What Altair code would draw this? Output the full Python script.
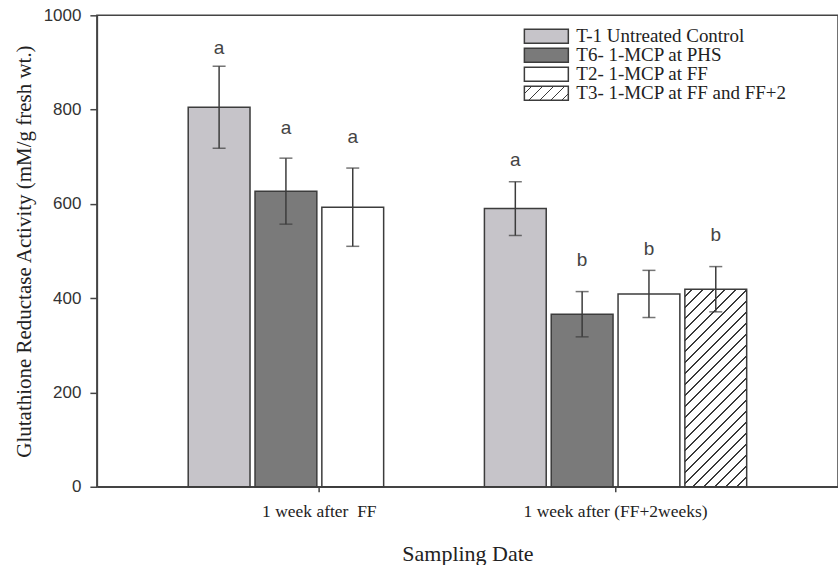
import altair as alt
import pandas as pd

# ---- data -------------------------------------------------------------
groups = ["1 week after \u00a0FF", "1 week after (FF+2weeks)"]
treatments = [
    "T-1 Untreated Control",
    "T6- 1-MCP at PHS",
    "T2- 1-MCP at FF",
    "T3- 1-MCP at FF and FF+2",
]
bar_group = [groups[0]] * 3 + [groups[1]] * 4
bar_treatment = [treatments[0], treatments[1], treatments[2],
                 treatments[0], treatments[1], treatments[2], treatments[3]]
activity = [805, 627, 593, 590, 366, 409, 419]
error = [87, 70, 83, 57, 48, 50, 48]
letters = ["a", "a", "a", "a", "b", "b", "b"]
letter_height = [930, 760, 741, 693, 481, 504, 534]

df = pd.DataFrame({
    "group": bar_group,
    "treatment": bar_treatment,
    "activity": activity,
    "lo": [m - e for m, e in zip(activity, error)],
    "hi": [m + e for m, e in zip(activity, error)],
    "letter": letters,
    "letter_y": letter_height,
})
key_df = pd.DataFrame({"treatment": treatments})

# ---- geometry ---------------------------------------------------------
PLOT_W, PLOT_H, Y_MAX = 742, 472, 1000
X_PAD_OUTER = 0.251
OFF_PAD_INNER, OFF_PAD_OUTER = 0.075, 0.254

band = PLOT_W / (2 + 2 * X_PAD_OUTER)
off_step = band / (len(treatments) - OFF_PAD_INNER + 2 * OFF_PAD_OUTER)
bar_w = off_step * (1 - OFF_PAD_INNER)
hatch_h = activity[bar_treatment.index(treatments[3])] * PLOT_H / Y_MAX

# legend block inside the plot (pixels from the plot's top-left corner)
KEY_LEFT, KEY_W, KEY_H, KEY_ROW, KEY_TOP = 428, 44, 14, 19, 11.5
KEY_TEXT_X = 480

INK = "#3c3c3c"
SOLID_FILLS = ["#c6c4c9", "#7a7a7a", "#ffffff"]


def stripe_gradient(w, h, period, line, dark="#3a3a3a", light="#ffffff"):
    """Diagonal '/' hatching as a linear gradient in bounding-box units."""
    total = w + h
    c = total / (w * w + h * h)
    stops = ["{offset:0,color:'%s'}" % light]
    pos = period * 0.6
    while pos + line < total:
        a, b = pos / total, (pos + line) / total
        stops += ["{offset:%.5f,color:'%s'}" % (a, light),
                  "{offset:%.5f,color:'%s'}" % (a, dark),
                  "{offset:%.5f,color:'%s'}" % (b, dark),
                  "{offset:%.5f,color:'%s'}" % (b, light)]
        pos += period
    stops.append("{offset:1,color:'%s'}" % light)
    return ("{gradient:'linear',x1:0,y1:0,x2:%.5f,y2:%.5f,stops:[%s]}"
            % (c * w, c * h, ",".join(stops)))


bar_scale = alt.Scale(
    domain=treatments,
    range=SOLID_FILLS + [alt.ExprRef(expr=stripe_gradient(bar_w, hatch_h, 11.0, 1.8))],
)
key_scale = alt.Scale(
    domain=treatments,
    range=SOLID_FILLS + [alt.ExprRef(expr=stripe_gradient(KEY_W, KEY_H, 11.0, 1.8))],
)

x_enc = alt.X(
    "group:N", sort=groups,
    scale=alt.Scale(paddingInner=0, paddingOuter=X_PAD_OUTER),
    axis=alt.Axis(title="Sampling Date", labelAngle=0, tickSize=5,
                  labelPadding=11, titlePadding=23, labelLimit=0,
                  labelFont="Liberation Serif", labelFontSize=17.5,
                  labelColor="#222", titleFont="Liberation Serif",
                  titleFontSize=22, titleFontWeight="normal",
                  titleColor="#222"),
)
off_enc = alt.XOffset(
    "treatment:N",
    scale=alt.Scale(domain=treatments, paddingInner=OFF_PAD_INNER,
                    paddingOuter=OFF_PAD_OUTER),
)
y_scale = alt.Scale(domain=[0, Y_MAX], nice=False)
y_enc = alt.Y(
    "activity:Q", scale=y_scale,
    axis=alt.Axis(title="Glutathione Reductase Activity (mM/g fresh wt.)",
                  values=[0, 200, 400, 600, 800, 1000], format="d",
                  grid=False, tickSize=7, labelPadding=9, titlePadding=9,
                  labelFont="Liberation Sans", labelFontSize=17,
                  labelColor="#333", titleFont="Liberation Serif",
                  titleFontSize=21, titleFontWeight="normal",
                  titleColor="#222"),
)

bars = alt.Chart(df).mark_bar(stroke=INK, strokeWidth=1.5).encode(
    x=x_enc, xOffset=off_enc, y=y_enc,
    fill=alt.Fill("treatment:N", scale=bar_scale, legend=None),
)
whiskers = alt.Chart(df).mark_rule(color=INK, strokeWidth=1.5).encode(
    x=alt.X("group:N", sort=groups), xOffset=off_enc,
    y=alt.Y("lo:Q", scale=y_scale), y2="hi:Q",
)
cap_lo = alt.Chart(df).mark_tick(color=INK, thickness=1.5, size=13,
                                 orient="horizontal").encode(
    x=alt.X("group:N", sort=groups), xOffset=off_enc,
    y=alt.Y("lo:Q", scale=y_scale),
)
cap_hi = alt.Chart(df).mark_tick(color=INK, thickness=1.5, size=13,
                                 orient="horizontal").encode(
    x=alt.X("group:N", sort=groups), xOffset=off_enc,
    y=alt.Y("hi:Q", scale=y_scale),
)
letters_layer = alt.Chart(df).mark_text(
    font="Liberation Sans", fontSize=19, color="#444", baseline="middle",
).encode(
    x=alt.X("group:N", sort=groups), xOffset=off_enc,
    y=alt.Y("letter_y:Q", scale=y_scale), text="letter:N",
)
data_layers = alt.layer(bars, whiskers, cap_lo, cap_hi, letters_layer)

# ---- key (legend) -----------------------------------------------------
key_y = alt.Y(
    "treatment:N", sort=treatments, axis=None,
    scale=alt.Scale(domain=treatments,
                    range=[KEY_TOP, KEY_TOP + KEY_ROW * len(treatments)],
                    paddingInner=1 - KEY_H / KEY_ROW,
                    paddingOuter=(1 - KEY_H / KEY_ROW) / 2),
)
key_swatch = alt.Chart(key_df).mark_bar(stroke=INK, strokeWidth=1.5).encode(
    x=alt.value(KEY_LEFT), x2=alt.value(KEY_LEFT + KEY_W),
    y=key_y,
    fill=alt.Fill("treatment:N", scale=key_scale, legend=None),
)
key_text = alt.Chart(key_df).mark_text(
    align="left", baseline="middle", font="Liberation Serif",
    fontSize=19, color="#222",
).encode(
    x=alt.value(KEY_TEXT_X), y=key_y, text="treatment:N",
)
key_layers = alt.layer(key_swatch, key_text)

chart = (
    alt.layer(data_layers, key_layers)
    .resolve_scale(y="independent", fill="independent")
    .properties(
        width=PLOT_W, height=PLOT_H,
        autosize=alt.AutoSizeParams(type="none"),
        padding={"left": 97, "top": 15, "right": 0, "bottom": 78},
        background="white",
    )
    .configure_view(stroke="#444", strokeWidth=1.5)
    .configure_axis(domainColor="#444", domainWidth=1.5, tickColor="#444",
                    tickWidth=1.5)
)

chart.save("out.html", embed_options={"renderer": "svg", "actions": False})
